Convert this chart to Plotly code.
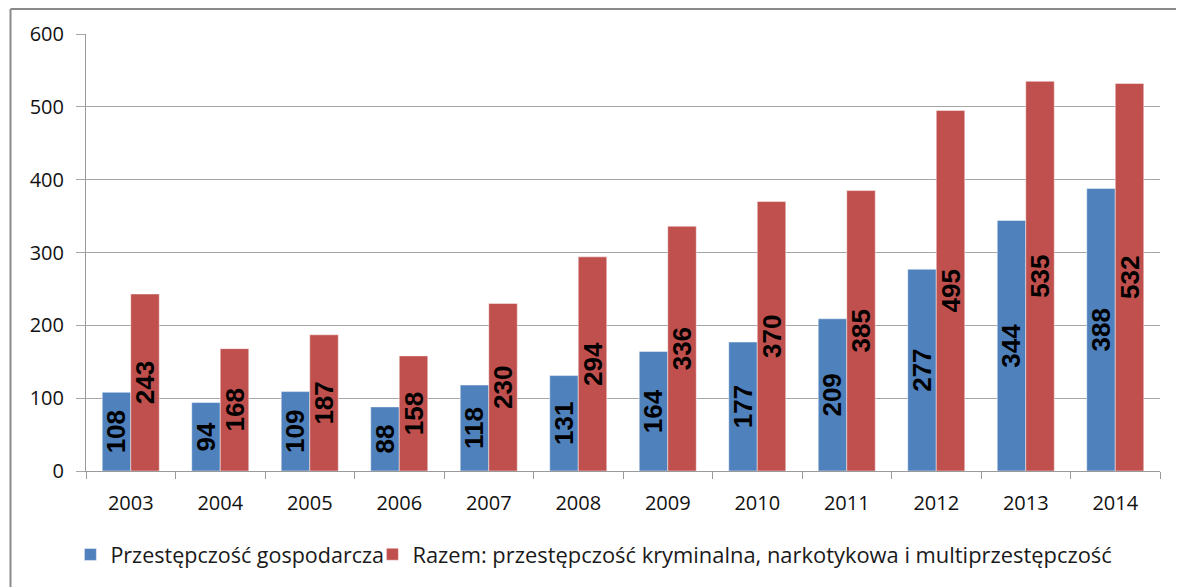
import plotly.graph_objects as go

years = ["2003", "2004", "2005", "2006", "2007", "2008", "2009", "2010", "2011", "2012", "2013", "2014"]
gospodarcza = [108, 94, 109, 88, 118, 131, 164, 177, 209, 277, 344, 388]
razem = [243, 168, 187, 158, 230, 294, 336, 370, 385, 495, 535, 532]
name_blue = "Przestępczość gospodarcza"
name_red = "Razem: przestępczość kryminalna, narkotykowa i multiprzestępczość"

# page body adds an 8px margin, so the figure is sized to fit the 1184x587 window
W, H = 1176, 579
L, R, T, B = 78, 24, 26, 114
PW, PH = W - L - R, H - T - B

label_font = dict(family="Liberation Sans, Arial", size=26, color="black", weight="bold")

fig = go.Figure()
fig.add_trace(go.Bar(
    x=years, y=gospodarcza, name=name_blue, legend="legend",
    marker=dict(color="#4F81BD", line=dict(color="rgba(255,255,255,0.45)", width=1)),
    text=[str(v) for v in gospodarcza], textposition="inside", insidetextanchor="middle",
    textangle=-90, constraintext="none", textfont=label_font,
    hoverinfo="skip",
))
fig.add_trace(go.Bar(
    x=years, y=razem, name=name_red, legend="legend2",
    marker=dict(color="#C0504D", line=dict(color="rgba(255,255,255,0.45)", width=1)),
    text=[str(v) for v in razem], textposition="inside", insidetextanchor="middle",
    textangle=-90, constraintext="none", textfont=label_font,
    hoverinfo="skip",
))

tick_font = dict(family="Open Sans", size=20, color="#111111")
leg_y = -0.191

bx = (2.5 - L) / PW
by = (H - B - 0.8) / PH
border = dict(color="#8a8a8a", width=2)

fig.update_layout(
    width=W, height=H, autosize=False,
    margin=dict(l=L, r=R, t=T, b=B, pad=0),
    paper_bgcolor="white", plot_bgcolor="white",
    barmode="group", bargap=0.363, bargroupgap=0,
    showlegend=True,
    legend=dict(orientation="h", x=(62.4 - L) / PW, xanchor="left", y=leg_y, yanchor="middle",
                font=dict(family="Open Sans", size=21.5, color="#1a1a1a"),
                bgcolor="rgba(0,0,0,0)", itemwidth=30),
    legend2=dict(orientation="h", x=(364.4 - L) / PW, xanchor="left", y=leg_y, yanchor="middle",
                 font=dict(family="Open Sans", size=21.9, color="#1a1a1a"),
                 bgcolor="rgba(0,0,0,0)", itemwidth=30),
    xaxis=dict(
        type="category", showgrid=False, showline=True, linecolor="#9a9a9a", linewidth=1,
        ticks="outside", tickson="boundaries", ticklen=7, tickcolor="#9a9a9a",
        tickfont=tick_font, ticklabelstandoff=14,
    ),
    yaxis=dict(
        range=[0, 600], dtick=100, showgrid=True, gridcolor="#a6a6a6", gridwidth=1,
        showline=True, linecolor="#9a9a9a", linewidth=1, zeroline=False,
        ticks="outside", ticklen=9, tickcolor="#a6a6a6",
        tickfont=tick_font, ticklabelstandoff=8,
    ),
    shapes=[
        dict(type="line", xref="paper", yref="paper", x0=bx, x1=bx, y0=-1.0, y1=by,
             line=border, layer="below"),
        dict(type="line", xref="paper", yref="paper", x0=bx, x1=1.5, y0=by, y1=by,
             line=border, layer="below"),
    ],
)

fig.write_html("out.html")
